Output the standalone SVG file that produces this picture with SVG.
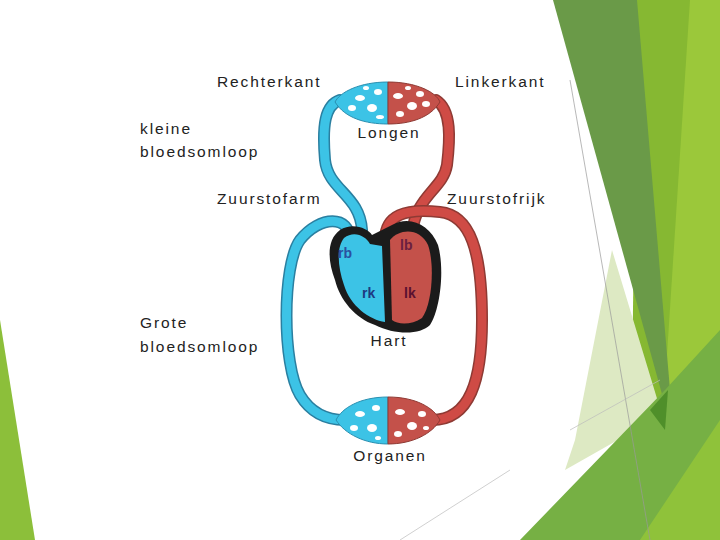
<svg xmlns="http://www.w3.org/2000/svg" width="720" height="540" viewBox="0 0 720 540">
<style>
.t{font-family:"Liberation Sans",Arial,sans-serif;font-size:15.5px;fill:#222;letter-spacing:1.9px}
.b{fill:none;stroke:#2a7fa0;stroke-width:12;stroke-linecap:round}
.bi{fill:none;stroke:#3cc3e6;stroke-width:9;stroke-linecap:round}
.r{fill:none;stroke:#8e3a34;stroke-width:12;stroke-linecap:round}
.ri{fill:none;stroke:#cf4b45;stroke-width:9;stroke-linecap:round}
.h{font-family:"Liberation Sans",Arial,sans-serif;font-size:14px;font-weight:bold}
</style>
<rect width="720" height="540" fill="#fff"/>
<g id="decor">
<polygon points="0,320 35,540 0,540" fill="#8cbf3a"/>
<polygon points="637,0 720,0 720,540 630,540" fill="#86b832"/>
<polygon points="690,0 720,0 720,540 655,540" fill="#9bc83a"/>
<polygon points="553,0 637,0 670,390 665,405" fill="#6a9a48"/>
<polygon points="612,250 662,415 565,470 575,440" fill="#dde9c3"/>
<polygon points="520,540 665,390 720,330 720,540" fill="#76b044"/>
<polygon points="650,410 668,390 665,430" fill="#4f8f2a"/>
<polygon points="640,540 720,420 720,540" fill="#8fc23a"/>
<line x1="570" y1="80" x2="650" y2="540" stroke="#999" stroke-width="0.7"/>
<line x1="400" y1="540" x2="510" y2="470" stroke="#bbb" stroke-width="0.7"/>
<line x1="570" y1="430" x2="660" y2="380" stroke="#bbb" stroke-width="0.7"/>
</g>
<g id="vessels">
<path class="b" d="M340,100 C325,105 322,125 325,160 C328,190 360,195 362,230 L362,255"/>
<path class="bi" d="M340,100 C325,105 322,125 325,160 C328,190 360,195 362,230 L362,255"/>
<path class="r" d="M436,100 C452,110 450,140 447,165 C443,190 415,195 412,235"/>
<path class="ri" d="M436,100 C452,110 450,140 447,165 C443,190 415,195 412,235"/>
<path class="b" d="M350,240 C350,215 320,215 300,240 C282,265 282,365 300,395 C312,415 330,420 345,420"/>
<path class="bi" d="M350,240 C350,215 320,215 300,240 C282,265 282,365 300,395 C312,415 330,420 345,420"/>
<path class="r" d="M432,420 C470,420 482,380 482,320 C482,250 470,215 440,212 C405,208 385,215 385,240"/>
<path class="ri" d="M432,420 C470,420 482,380 482,320 C482,250 470,215 440,212 C405,208 385,215 385,240"/>
</g>
<g id="lungs">
<path d="M388,82 C360,82 340,92 335,102 C345,118 365,124 388,124 Z" fill="#3cc3e6" stroke="#2a8fb0"/>
<path d="M388,82 C416,82 436,92 440,102 C430,118 410,124 388,124 Z" fill="#c4514a" stroke="#8e3a34"/>
<g fill="#fff"><ellipse cx="360" cy="98" rx="5" ry="3"/><ellipse cx="372" cy="108" rx="5" ry="4"/><ellipse cx="378" cy="92" rx="4" ry="3"/><ellipse cx="352" cy="108" rx="4" ry="3"/><ellipse cx="366" cy="88" rx="3" ry="2"/><ellipse cx="380" cy="117" rx="4" ry="2"/><ellipse cx="398" cy="96" rx="5" ry="3"/><ellipse cx="412" cy="106" rx="5" ry="4"/><ellipse cx="420" cy="94" rx="4" ry="3"/><ellipse cx="400" cy="114" rx="4" ry="3"/><ellipse cx="426" cy="104" rx="4" ry="3"/><ellipse cx="408" cy="88" rx="3" ry="2"/></g>
</g>
<g id="organs">
<path d="M388,397 C360,397 342,408 336,420 C345,434 365,444 388,444 Z" fill="#3cc3e6" stroke="#2a8fb0"/>
<path d="M388,397 C416,397 434,408 440,420 C432,434 412,444 388,444 Z" fill="#c4514a" stroke="#8e3a34"/>
<g fill="#fff"><ellipse cx="360" cy="414" rx="5" ry="3"/><ellipse cx="372" cy="428" rx="5" ry="4"/><ellipse cx="376" cy="408" rx="4" ry="3"/><ellipse cx="354" cy="428" rx="4" ry="3"/><ellipse cx="378" cy="438" rx="3" ry="2"/><ellipse cx="400" cy="412" rx="5" ry="3"/><ellipse cx="412" cy="426" rx="5" ry="4"/><ellipse cx="422" cy="414" rx="4" ry="3"/><ellipse cx="398" cy="434" rx="4" ry="3"/><ellipse cx="426" cy="428" rx="3" ry="2"/></g>
</g>
<g id="heart">
<path d="M340,230 C352,222 368,228 372,235 L392,225 C410,215 430,225 438,245 C445,270 440,310 430,325 C420,335 395,335 375,325 C355,318 340,300 335,280 C328,262 326,240 340,230 Z" fill="#1b1b1b"/>
<path d="M344,238 C354,230 366,236 370,244 L382,246 L385,322 C370,320 350,306 344,285 C338,268 336,248 344,238 Z" fill="#3cc3e6"/>
<path d="M390,240 C400,228 420,228 428,245 C435,265 432,305 422,318 C412,325 398,325 392,320 Z" fill="#c4514a"/>
<text class="h" x="338" y="258" fill="#2a50a0">rb</text>
<text class="h" x="400" y="250" fill="#6a1e40">lb</text>
<text class="h" x="362" y="298" fill="#1e3a80">rk</text>
<text class="h" x="404" y="298" fill="#5a1030">lk</text>
</g>
<g id="labels">
<text class="t" x="217" y="87">Rechterkant</text>
<text class="t" x="455" y="87">Linkerkant</text>
<text class="t" x="140" y="134">kleine</text>
<text class="t" x="140" y="157">bloedsomloop</text>
<text class="t" x="389" y="138" text-anchor="middle">Longen</text>
<text class="t" x="217" y="204">Zuurstofarm</text>
<text class="t" x="447" y="204">Zuurstofrijk</text>
<text class="t" x="140" y="328">Grote</text>
<text class="t" x="140" y="352">bloedsomloop</text>
<text class="t" x="389" y="346" text-anchor="middle">Hart</text>
<text class="t" x="390" y="461" text-anchor="middle">Organen</text>
</g>
</svg>
